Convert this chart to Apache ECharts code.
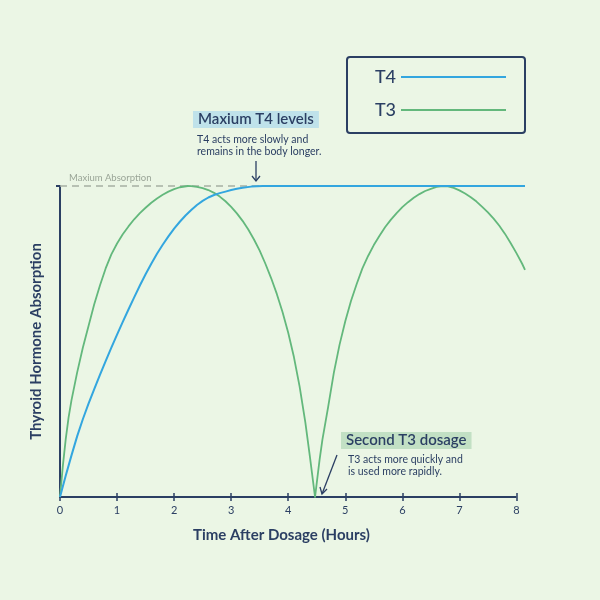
<!DOCTYPE html>
<html>
<head>
<meta charset="utf-8">
<script src="https://cdn.jsdelivr.net/npm/echarts@6/dist/echarts.min.js"></script>
<style>
  html, body { margin: 0; padding: 0; background: #ebf6e5; }
  #main { width: 600px; height: 600px; }
</style>
</head>
<body>
<div id="main"></div>
<script>
// time (hours) and absorption (% of max)
var timeT4 = [0, 0.1, 0.2, 0.3, 0.4, 0.5, 0.6, 0.7, 0.8, 0.9, 1.0, 1.1, 1.2, 1.3, 1.4, 1.5, 1.6, 1.7, 1.8, 1.9,
              2.0, 2.1, 2.2, 2.3, 2.4, 2.5, 2.6, 2.7, 2.8, 2.9, 3.0, 3.1, 3.2, 3.35, 3.55, 5, 8.15];
var valueT4 = [0, 6.8, 13.3, 19.5, 25, 30, 34.7, 39.3, 43.7, 48, 52.2, 56.3, 60.3, 64.2, 68, 71.6, 75, 78.2, 81.1, 83.8,
               86.3, 88.5, 90.5, 92.3, 93.9, 95.2, 96.3, 97.1, 97.7, 98.2, 98.7, 99.1, 99.45, 99.8, 100, 100, 100];

var timeT3 = [0, 0.05, 0.1, 0.15, 0.2, 0.3, 0.4, 0.5, 0.6, 0.7, 0.8, 0.9, 1.0, 1.1, 1.2, 1.3, 1.4, 1.5, 1.6, 1.7, 1.8, 1.9,
              2.0, 2.1, 2.24, 2.3, 2.4, 2.5, 2.6, 2.7, 2.8, 2.9, 3.0, 3.1, 3.2, 3.3, 3.4, 3.5, 3.6, 3.7, 3.8, 3.9,
              4.0, 4.1, 4.2, 4.3, 4.38, 4.47, 4.55, 4.6, 4.7, 4.8, 4.9, 5.0, 5.1, 5.2, 5.3, 5.4, 5.5, 5.6, 5.7, 5.8, 5.9,
              6.0, 6.1, 6.2, 6.3, 6.4, 6.5, 6.6, 6.71, 6.8, 6.9, 7.0, 7.1, 7.2, 7.3, 7.4, 7.5, 7.6, 7.7, 7.8, 7.9,
              8.0, 8.1, 8.15];
var valueT3 = [0, 10, 18.5, 25.5, 31, 40, 48, 55, 62, 68, 73.5, 78, 81.5, 84.5, 87, 89.3, 91.3, 93, 94.6, 96, 97.2, 98.2,
               99, 99.6, 100, 99.95, 99.7, 99.3, 98.7, 97.8, 96.6, 95.1, 93.3, 91.2, 88.8, 86, 82.8, 79.2, 75, 70.4, 65.3, 59.5,
               52.8, 45, 35.5, 24, 13, 0, 12, 18.5, 29, 40, 49, 56.5, 63, 68.5, 73.5, 77.5, 81, 84, 86.8, 89.2, 91.3,
               93.2, 94.8, 96.2, 97.4, 98.4, 99.1, 99.7, 100, 99.85, 99.4, 98.6, 97.6, 96.4, 95, 93.3, 91.5, 89.5, 87.2, 84.6, 81.6,
               78.4, 75, 73];

var xTicks = [0, 1, 2, 3, 4, 5, 6, 7, 8];
var maxLevel = 100;

var navy = '#2b3f63';
var font = 'Lato';

function pairs(xs, ys) {
  return xs.map(function (x, i) { return [x, ys[i]]; });
}

var chart = echarts.init(document.getElementById('main'));

var option = {
  backgroundColor: '#ebf6e5',
  animation: false,
  textStyle: { fontFamily: font },
  grid: { left: 60, right: 75, top: 186, bottom: 103 },
  legend: {
    orient: 'vertical',
    left: 347,
    top: 57,
    align: 'right',
    icon: 'rect',
    padding: [10, 19, 13, 19],
    itemGap: 13,
    itemWidth: 105,
    itemHeight: 2,
    backgroundColor: 'transparent',
    borderColor: navy,
    borderWidth: 2,
    borderRadius: 3,
    data: ['T4', 'T3'],
    textStyle: { color: navy, fontSize: 18, fontWeight: 500, width: 30, align: 'left', lineHeight: 20, fontFamily: font }
  },
  xAxis: [{
    type: 'value',
    min: 0,
    max: 8.15,
    axisLine: { show: false },
    splitLine: { show: false },
    axisTick: { show: true, customValues: xTicks, length: 4, lineStyle: { color: navy, width: 1.5 } },
    axisLabel: { customValues: xTicks, color: navy, fontSize: 11, margin: 8 },
    name: 'Time After Dosage (Hours)',
    nameLocation: 'middle',
    nameGap: 31,
    nameTextStyle: { color: navy, fontSize: 15, fontWeight: 'bold', padding: [0, 22, 0, 0] }
  }, {
    type: 'value',
    min: 0,
    max: 8.15,
    position: 'bottom',
    axisLine: { show: false },
    splitLine: { show: false },
    axisLabel: { show: false },
    axisTick: { show: true, inside: true, customValues: xTicks, length: 4, lineStyle: { color: navy, width: 1.5 } }
  }],
  yAxis: {
    type: 'value',
    min: 0,
    max: maxLevel,
    interval: 25,
    axisLine: { show: true, lineStyle: { color: navy, width: 2 } },
    axisTick: { show: true, customValues: [maxLevel], length: 4, lineStyle: { color: navy, width: 2 } },
    axisLabel: { show: false },
    splitLine: {
      show: true,
      lineStyle: { color: ['transparent', '#c6d4c1', '#c6d4c1', '#c6d4c1', 'transparent'], width: 1.2 }
    },
    name: 'Thyroid Hormone Absorption',
    nameLocation: 'middle',
    nameGap: 16,
    nameTextStyle: { color: navy, fontSize: 15, fontWeight: 'bold' }
  },
  series: [{
    name: 'T3',
    type: 'line',
    data: pairs(timeT3, valueT3),
    symbol: 'none',
    clip: false,
    color: '#63b87c',
    lineStyle: { color: '#63b87c', width: 1.8, join: 'round' },
    markLine: {
      silent: true,
      symbol: 'none',
      z: 1,
      data: [
        {
          yAxis: maxLevel,
          lineStyle: { color: '#a6b0a3', type: [7, 5], width: 1.5 },
          label: {
            show: true, position: 'insideStartTop', formatter: 'Maxium Absorption',
            color: '#9aa597', fontSize: 9.5, distance: [9, 3]
          }
        },
        [
          { coord: [0, 0], lineStyle: { color: navy, width: 2, type: 'solid' }, label: { show: false } },
          { coord: [8, 0] }
        ]
      ]
    }
  }, {
    name: 'T4',
    type: 'line',
    data: pairs(timeT4, valueT4),
    symbol: 'none',
    clip: false,
    color: '#33a6df',
    lineStyle: { color: '#33a6df', width: 2, join: 'round' }
  }],
  graphic: [
    {
      type: 'text', left: 193, top: 111,
      style: {
        text: 'Maxium T4 levels', font: '600 15px Lato', fill: navy,
        backgroundColor: '#bfe2ea', padding: [1, 5, 1, 5]
      }
    },
    {
      type: 'text', left: 197, top: 134,
      style: {
        text: 'T4 acts more slowly and\nremains in the body longer.',
        font: '10.5px Lato', fill: navy, lineHeight: 12
      }
    },
    {
      type: 'polyline', shape: { points: [[256, 161], [256, 181]] },
      style: { stroke: navy, lineWidth: 1.3, fill: null }
    },
    {
      type: 'polyline', shape: { points: [[252, 176], [256, 181], [260, 176]] },
      style: { stroke: navy, lineWidth: 1.3, fill: null }
    },
    {
      type: 'text', left: 341, top: 432,
      style: {
        text: 'Second T3 dosage', font: '600 15px Lato', fill: navy,
        backgroundColor: '#c2e0c4', padding: [1, 5, 1, 5]
      }
    },
    {
      type: 'text', left: 348, top: 454,
      style: {
        text: 'T3 acts more quickly and\nis used more rapidly.',
        font: '10.5px Lato', fill: navy, lineHeight: 12
      }
    },
    {
      type: 'polyline', shape: { points: [[337, 455], [322, 494]] },
      style: { stroke: navy, lineWidth: 1.3, fill: null }
    },
    {
      type: 'polyline', shape: { points: [[320, 487], [322, 494], [327, 489]] },
      style: { stroke: navy, lineWidth: 1.3, fill: null }
    }
  ]
};

chart.setOption(option);
</script>
</body>
</html>
